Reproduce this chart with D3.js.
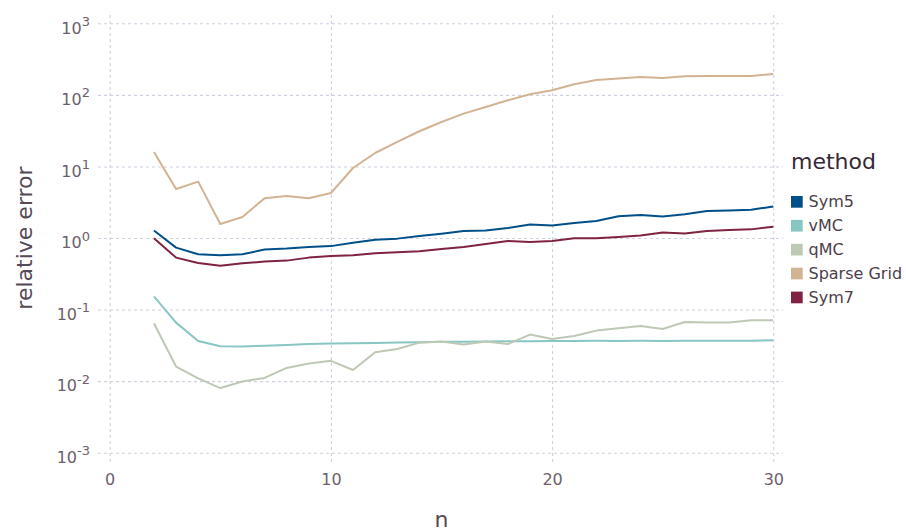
<!DOCTYPE html>
<html>
<head>
<meta charset="utf-8">
<script src="https://cdn.jsdelivr.net/npm/d3@7"></script>
<style>
  body { margin: 0; background: #fff; }
  svg { display: block; font-family: "DejaVu Sans", sans-serif; }
</style>
</head>
<body>
<svg id="chart" width="906" height="532"></svg>
<script>
// Problem sizes n
const nValues = [2, 3, 4, 5, 6, 7, 8, 9, 10, 11, 12, 13, 14, 15, 16, 17, 18, 19, 20,
                 21, 22, 23, 24, 25, 26, 27, 28, 29, 30];

// Relative error per method
const sym5 = [1.27, 0.734, 0.592, 0.573, 0.592, 0.689, 0.711, 0.749, 0.77, 0.86,
              0.948, 0.98, 1.07, 1.15, 1.25, 1.27, 1.38, 1.54, 1.49, 1.62,
              1.73, 2.01, 2.1, 1.99, 2.14, 2.38, 2.42, 2.49, 2.75];
const vMC = [0.153, 0.0657, 0.0364, 0.0307, 0.0304, 0.0313, 0.032, 0.033, 0.0336, 0.0338,
             0.0342, 0.0346, 0.035, 0.0354, 0.0356, 0.0358, 0.036, 0.0362, 0.0364, 0.0364,
             0.0366, 0.0365, 0.0367, 0.0365, 0.0368, 0.0368, 0.0367, 0.0368, 0.0372];
const qMC = [0.0643, 0.016, 0.0109, 0.008, 0.0099, 0.0111, 0.0153, 0.0176, 0.0192, 0.0143,
             0.0253, 0.0281, 0.0345, 0.0357, 0.0324, 0.0357, 0.033, 0.0447, 0.0388, 0.0428,
             0.0508, 0.0547, 0.0589, 0.0535, 0.067, 0.0657, 0.066, 0.0708, 0.0708];
const sparseGrid = [15.9, 4.84, 6.14, 1.57, 1.97, 3.59, 3.86, 3.59, 4.25, 9.5,
                    15.4, 22, 31, 41.8, 54.7, 67.7, 84, 102, 116, 141,
                    161, 169, 178, 172, 182, 184, 184, 184, 196];
const sym7 = [0.99, 0.532, 0.448, 0.411, 0.443, 0.468, 0.483, 0.532, 0.561, 0.573,
              0.611, 0.631, 0.652, 0.702, 0.749, 0.824, 0.908, 0.879, 0.908, 0.99,
              0.99, 1.03, 1.08, 1.19, 1.16, 1.25, 1.29, 1.32, 1.44];

const methods = ["Sym5", "vMC", "qMC", "Sparse Grid", "Sym7"];
const methodColors = ["#004f88", "#88c6c4", "#bec9b5", "#d2b394", "#7f2340"];
const methodValues = [sym5, vMC, qMC, sparseGrid, sym7];

const xTicks = [0, 10, 20, 30];
const yExponents = [-3, -2, -1, 0, 1, 2, 3];

const svg = d3.select("#chart");

// Panel geometry
const panel = { left: 98, right: 783, top: 12, bottom: 462 };

const x = d3.scaleLinear().domain([0, 30]).range([109.7, 773.3]);
const y = d3.scaleLog().domain([1e-3, 1e3]).range([452.7, 23.3]);

const gridColor = "#d0d0e0";
const tickColor = "#6c606b";

// Vertical grid + x tick labels
const xAxis = d3.axisBottom(x)
  .tickValues(xTicks)
  .tickFormat(d3.format("d"))
  .tickSizeInner(-(panel.bottom - panel.top))
  .tickSizeOuter(0)
  .tickPadding(11.6);

const gx = svg.append("g")
  .attr("transform", `translate(0,${panel.bottom})`)
  .call(xAxis);
gx.select(".domain").remove();
gx.selectAll("line")
  .attr("stroke", gridColor)
  .attr("stroke-width", 1.1)
  .attr("stroke-dasharray", "3,3");
gx.selectAll("text")
  .attr("fill", tickColor)
  .attr("font-size", 16)
  .attr("font-family", "DejaVu Sans, sans-serif");

// Horizontal grid + y tick labels with powers of ten
const yAxis = d3.axisLeft(y)
  .tickValues(yExponents.map(e => Math.pow(10, e)))
  .tickSizeInner(-(panel.right - panel.left))
  .tickSizeOuter(0)
  .tickPadding(8);

const gy = svg.append("g")
  .attr("transform", `translate(${panel.left},0)`)
  .call(yAxis);
gy.select(".domain").remove();
gy.selectAll("line")
  .attr("stroke", gridColor)
  .attr("stroke-width", 1.1)
  .attr("stroke-dasharray", "3,3");
gy.selectAll("text").each(function(d) {
  const t = d3.select(this);
  const e = Math.round(Math.log10(d));
  t.text(null)
    .attr("dy", null)
    .attr("y", 9.8)
    .attr("fill", tickColor)
    .attr("font-size", 16)
    .attr("font-family", "DejaVu Sans, sans-serif");
  t.append("tspan").text("10");
  t.append("tspan").attr("dy", -7.8).attr("font-size", 13).text(String(e));
});

// Series lines
const line = d3.line()
  .x((d, i) => x(nValues[i]))
  .y(d => y(d));

svg.append("g")
  .selectAll("path")
  .data(methodValues)
  .join("path")
  .attr("d", d => line(d))
  .attr("fill", "none")
  .attr("stroke", (d, i) => methodColors[i])
  .attr("stroke-width", 2)
  .attr("stroke-linejoin", "round");

// Axis titles
svg.append("text")
  .attr("x", (x(0) + x(30)) / 2)
  .attr("y", 527.3)
  .attr("text-anchor", "middle")
  .attr("fill", "#564a55")
  .attr("font-size", 22)
  .text("n");

svg.append("text")
  .attr("transform", `translate(31.5,${(y(1e-3) + y(1e3)) / 2}) rotate(-90)`)
  .attr("text-anchor", "middle")
  .attr("fill", "#564a55")
  .attr("font-size", 22)
  .text("relative error");

// Legend
const legend = svg.append("g").attr("transform", "translate(791,0)");
legend.append("text")
  .attr("x", 0)
  .attr("y", 168.5)
  .attr("fill", "#362a35")
  .attr("font-size", 22)
  .text("method");

const items = legend.selectAll("g.item")
  .data(methods)
  .join("g")
  .attr("class", "item")
  .attr("transform", (d, i) => `translate(0,${196 + i * 23.9})`);
items.append("rect")
  .attr("width", 11.7)
  .attr("height", 11.7)
  .attr("fill", (d, i) => methodColors[i]);
items.append("text")
  .attr("x", 17.5)
  .attr("y", 11.4)
  .attr("fill", "#4c404b")
  .attr("font-size", 16)
  .text(d => d);
</script>
</body>
</html>
